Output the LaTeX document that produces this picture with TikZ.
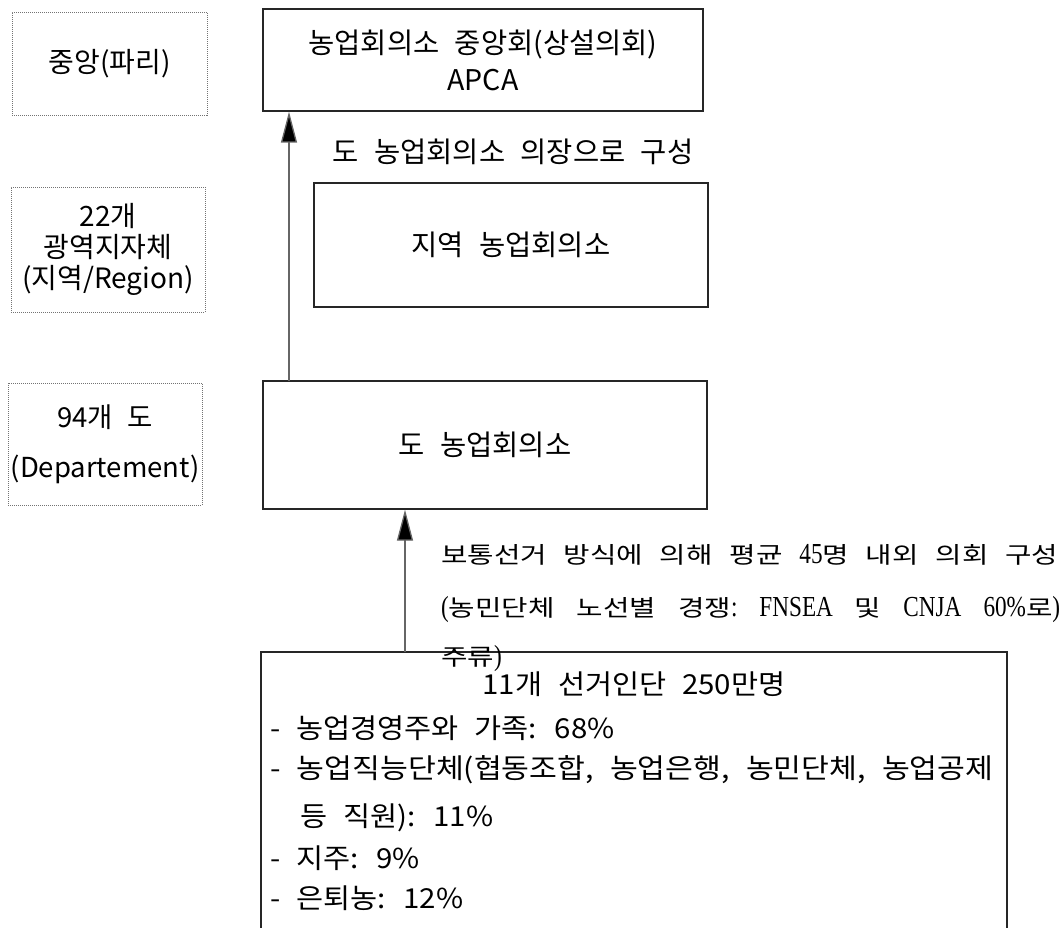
\documentclass[tikz,border=0pt]{standalone}
\usepackage{fontspec}
\setmainfont[WordSpace=2.4]{Noto Sans CJK KR}
\newfontfamily\notefont[WordSpace=1.0]{Noto Sans CJK KR}
\newfontfamily\noteroman{Liberation Serif}
\newcommand\lat[1]{\scalebox{0.64}[1]{\noteroman\fontsize{29}{30}\selectfont #1}}
\newcommand\widen[2]{\scalebox{#1}[1]{#2}}
\usetikzlibrary{arrows.meta}

\begin{document}
\begin{tikzpicture}[x=1pt,y=-1pt,org/.style={draw=black!85,line width=1.3pt,inner sep=0pt,align=center,font=\fontsize{28.5}{37}\selectfont},lvl/.style={draw=black!55,line width=0.9pt,dash pattern=on 1pt off 1pt,inner sep=0pt,align=center},upar/.style={draw=black!60,line width=1.3pt,-{Triangle[length=31pt,width=16pt,fill=black]}},note/.style={inner sep=0pt,anchor=west,font=\notefont\fontsize{23}{30}\selectfont},vline/.style={inner sep=0pt,anchor=base west,font=\fontsize{27.5}{30}\selectfont}]
\clip[use as bounding box] (0,0) rectangle (1063,928);

% levels on the left
\node[lvl,minimum width=195pt,minimum height=103pt,font=\fontsize{28}{31}\selectfont] (lvC) at (109.5,63.5) {중앙(파리)};
\node[lvl,minimum width=194pt,minimum height=125pt,font=\fontsize{28}{31}\selectfont] (lvR) at (108,249.5) {22개\\광역지자체\\(지역/Region)};
\node[lvl,minimum width=194pt,minimum height=122pt,font=\fontsize{27.5}{50}\selectfont] (lvD) at (105,444) {94개 도\\(Departement)};

% chambers
\node[org,minimum width=440pt,minimum height=102pt] (apca) at (483,60) {농업회의소 중앙회(상설의회)\\APCA};
\node[org,minimum width=394pt,minimum height=124pt] (reg) at (511,245) {지역 농업회의소};
\node[org,minimum width=444pt,minimum height=128pt] (dep) at (485,445) {도 농업회의소};
\node[org,minimum width=746pt,minimum height=308pt] (vot) at (634,806) {};

\node[inner sep=0pt,font=\fontsize{28.5}{30}\selectfont] (nt1) at (513,152) {도 농업회의소 의장으로 구성};
\node[note] (nt2) at (441,555) {\widen{1.25}{\makebox[493.6pt][s]{보통선거 방식에 의해 평균 \lat{45}명 내외 의회 구성}}};
\node[note] (nt3) at (441,610) {\widen{1.25}{\makebox[495.2pt][s]{\lat{(}농민단체 노선별 경쟁\lat{:} \lat{FNSEA} 및 \lat{CNJA} \lat{60\%}로\lat{)}}}};
\node[note] (nt4) at (441,659) {\widen{1.25}{주류\lat{)}}};

% electorate
\node[inner sep=0pt,font=\fontsize{27.5}{30}\selectfont] (votT) at (634,684) {\widen{1.07}{11개 선거인단 250만명}};
\node[vline] (vl1) at (270,738) {\widen{1.07}{- 농업경영주와 가족: 68\%}};
\node[vline] (vl2) at (270,778) {\widen{1.1}{- 농업직능단체(협동조합, 농업은행, 농민단체, 농업공제}};
\node[vline] (vl3) at (300,826) {\widen{1.07}{등 직원): 11\%}};
\node[vline] (vl4) at (270,868) {\widen{1.07}{- 지주: 9\%}};
\node[vline] (vl5) at (270,908) {\widen{1.07}{- 은퇴농: 12\%}};

\coordinate (a1) at (289,381);
\draw[upar] (a1) -- (a1 |- apca.south);
\coordinate (a2) at (405,652);
\draw[upar] (a2) -- (a2 |- dep.south);
\end{tikzpicture}
\end{document}
